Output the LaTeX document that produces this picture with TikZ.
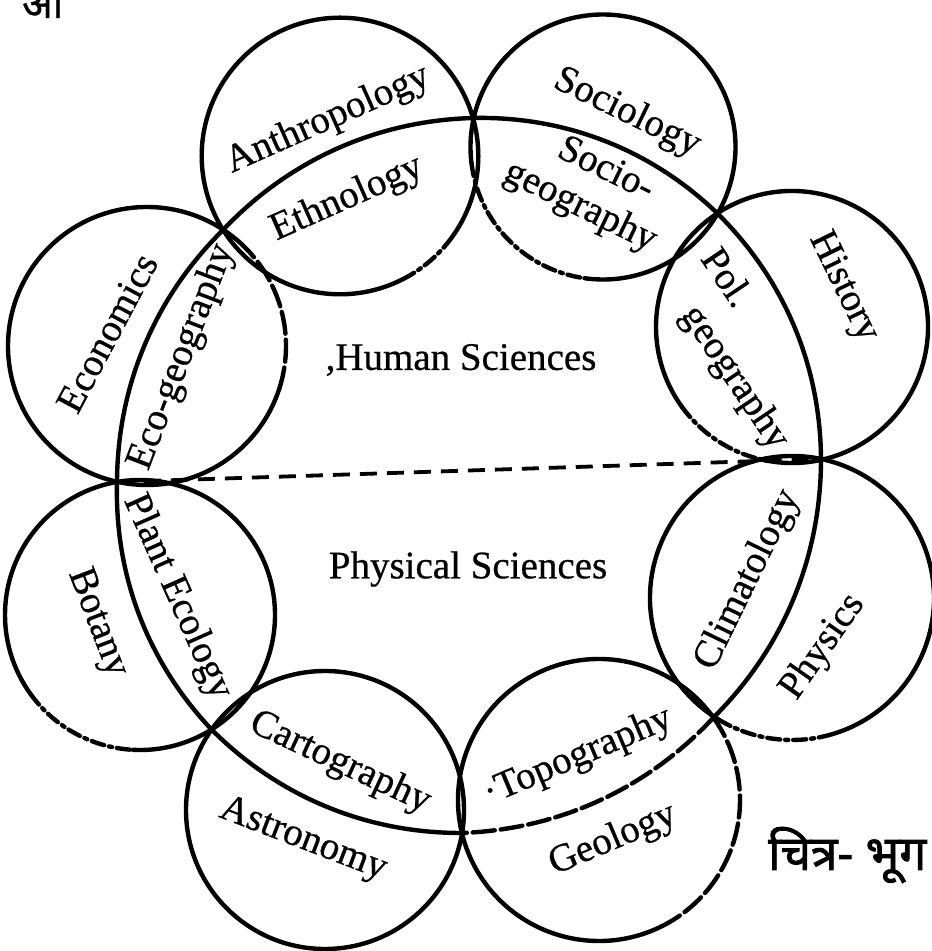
\documentclass[tikz,border=0pt]{standalone}
\usepackage{fontspec}
\setmainfont{Liberation Serif}
\newfontfamily\lblfont{Liberation Serif}[FakeBold=0.6]
\newfontfamily\devfont[Script=Devanagari, FakeBold=1.6]{Noto Sans}
\newfontfamily\devplain[Script=Devanagari, FakeBold=0.8]{Noto Sans}
\begin{document}
\begin{tikzpicture}[x=1pt,y=1pt,
  outline/.style={line width=4.4pt, line cap=round},
  broken/.style={outline, dash pattern=on 13pt off 5pt on 3pt off 5pt},
  longdash/.style={outline, dash pattern=on 22pt off 6pt},
  divider/.style={line width=3.8pt, dash pattern=on 17pt off 10pt},
  ringbend/.style={bend left=22.5, looseness=0.9},
  lbl/.style={inner sep=0pt, font=\lblfont\fontsize{39}{44}\selectfont},
]
\clip (0,0) rectangle (932,951);
\fill[white] (0,0) rectangle (932,951);

% junctions where neighbouring circles meet on the common ring
\coordinate (J1) at (473,833);
\coordinate (J2) at (717,738);
\coordinate (J3) at (821,492);
\coordinate (J4) at (714,234);
\coordinate (J5) at (462,118);
\coordinate (J6) at (212,221);
\coordinate (J7) at (117,469);
\coordinate (J8) at (223,721);

% circle centres
\coordinate (cA)  at (340,795);  % Anthropology
\coordinate (cS)  at (603,804);  % Sociology
\coordinate (cH)  at (792,624);  % History
\coordinate (cP)  at (792,353);  % Physics
\coordinate (cG)  at (599,151);  % Geology
\coordinate (cAs) at (325,141);  % Astronomy
\coordinate (cB)  at (140,336);  % Botany
\coordinate (cE)  at (147,605);  % Economics

% the eight discipline circles (some stretches printed broken)
\draw[outline] (cA) ++(-41:138.3) arc[start angle=-41, end angle=297, radius=138.3];
\draw[broken]  (cA) ++(-63:138.3) arc[start angle=-63, end angle=-41, radius=138.3];

\draw[outline] (cS) ++(262:132.5) arc[start angle=262, end angle=547, radius=132.5];
\draw[broken]  (cS) ++(187:132.5) arc[start angle=187, end angle=262, radius=132.5];

\draw[outline] (cH) ++(256:136) arc[start angle=256, end angle=576, radius=136];
\draw[broken]  (cH) ++(216:136) arc[start angle=216, end angle=256, radius=136];

\draw[outline] (cP) ++(-75:142) arc[start angle=-75, end angle=239, radius=142];
\draw[broken]  (cP) ++(-121:142) arc[start angle=-121, end angle=-75, radius=142];

\draw[outline] (cG) ++(32:141) arc[start angle=32, end angle=296, radius=141];
\draw[longdash](cG) ++(-64:141) arc[start angle=-64, end angle=32, radius=141];

\draw[outline] (cAs) circle[radius=139];

\draw[outline] (cB) ++(267:135) arc[start angle=267, end angle=576, radius=135];
\draw[broken]  (cB) ++(216:135) arc[start angle=216, end angle=267, radius=135];

\draw[outline] (cE) ++(43:139) arc[start angle=43, end angle=342, radius=139];
\draw[longdash](cE) ++(-18:139) arc[start angle=-18, end angle=43, radius=139];

% the ring of geography branches through the junctions
\draw[outline]  (J8) to[ringbend] (J1);
\draw[outline]  (J1) to[ringbend] (J2);
\draw[outline]  (J2) to[ringbend] (J3);
\draw[outline]  (J3) to[ringbend] (J4);
\draw[longdash] (J4) to[ringbend] (J5);
\draw[outline]  (J5) to[ringbend] (J6);
\draw[outline]  (J6) to[ringbend] (J7);
\draw[outline]  (J7) to[ringbend] (J8);

% boundary between the two halves
\draw[divider] (J7) -- (J3);

% labels
\node[lbl, rotate=24]  (anth)  at (328,831) {Anthropology};
\node[lbl, rotate=24]  (ethn)  at (347,752) {Ethnology};
\node[lbl, rotate=-26] (soc)   at (627,838) {Sociology};
\node[lbl, rotate=-26] (soca)  at (607,784) {Socio-};
\node[lbl, rotate=-26] (socb)  at (580,744) {geography};
\node[lbl, rotate=62]  (econ)  at (107,618) {Economics};
\node[lbl, rotate=69]  (ecog)  at (182,594) {Eco-geography};
\node[lbl, rotate=-56] (pola)  at (728,674) {Pol.};
\node[lbl, rotate=-56] (polb)  at (734,573) {geography};
\node[lbl, rotate=-64] (hist)  at (843,664) {History};
\node[lbl, rotate=64]  (clim)  at (748,371) {Climatology};
\node[lbl, rotate=55]  (phys)  at (823,304) {Physics};
\node[lbl, rotate=23]  (topo)  at (578,194) {·Topography};
\node[lbl, rotate=23]  (geol)  at (613,111) {Geology};
\node[lbl, rotate=-25] (cart)  at (340,188) {Cartography};
\node[lbl, rotate=-21] (astr)  at (303,111) {Astronomy};
\node[lbl, rotate=-69] (bota)  at (97,328)  {Botany};
\node[lbl, rotate=-66] (plant) at (177,354) {Plant Ecology};
\node[lbl] (human)    at (461,591) {,Human Sciences};
\node[lbl] (physical) at (468,382) {Physical Sciences};

% running text of the page, cut by the top edge
\node[inner sep=0pt, anchor=base west, font=\devplain\fontsize{40}{44}\selectfont] (runhead) at (22,933) {आ};

% figure caption
\node[inner sep=0pt, anchor=west, font=\devfont\fontsize{48}{54}\selectfont] (cap) at (768,96) {चित्र- भूग};
\end{tikzpicture}
\end{document}
